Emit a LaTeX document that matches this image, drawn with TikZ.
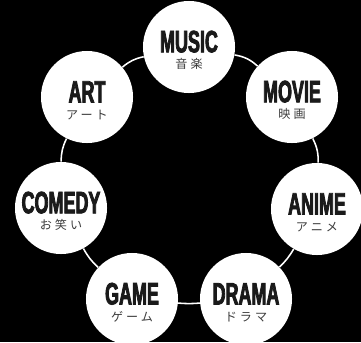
\documentclass[tikz,border=0pt]{standalone}
\usepackage{fontspec}
\setmainfont{Liberation Sans}
\newfontfamily\genrefont[FakeStretch=0.58,FakeBold=2.5]{Liberation Sans}
\newfontfamily\jpfont[LetterSpace=25]{Noto Sans CJK JP}
\definecolor{ink}{HTML}{1A1A1A}
\definecolor{subink}{HTML}{3C3C3C}
\newcommand{\jp}[1]{{\jpfont\mdseries\fontsize{8.6}{9}\selectfont\color{subink}#1}}
\newcommand{\genretext}[2]{\rule{0pt}{20pt}#1\\\jp{#2}}

\begin{document}
\begin{tikzpicture}[x=0.025cm,y=-0.025cm,
  genre/.style={circle,fill=white,minimum size=2.3cm,inner sep=0pt,align=center,text=ink,
    font=\genrefont\bfseries\fontsize{22}{11.8}\selectfont},
  ring/.style={draw=white,line width=1.1pt}]
\fill[black] (0,0) rectangle (361,342);
\clip (0,0) rectangle (361,342);
\node[genre] (music) at (189,47) {\genretext{MUSIC}{音楽}};
\node[genre] (movie) at (292,97) {\genretext{MOVIE}{映画}};
\node[genre] (anime) at (317,209) {\genretext{ANIME}{アニメ}};
\node[genre] (drama) at (246,299) {\genretext{DRAMA}{ドラマ}};
\node[genre] (game) at (132,299) {\genretext{GAME}{ゲーム}};
\node[genre] (comedy) at (61,208) {\genretext{COMEDY}{お笑い}};
\node[genre] (art) at (87,97) {\genretext{ART}{アート}};
\path[ring] (music) edge [bend left=16] (movie)
(movie) edge [bend left=14] (anime)
(anime) edge [bend left=8] (drama)
(drama) edge [bend left=5] (game)
(game) edge [bend left=9] (comedy)
(comedy) edge [bend left=13] (art)
(art) edge [bend left=14] (music);
\end{tikzpicture}
\end{document}
